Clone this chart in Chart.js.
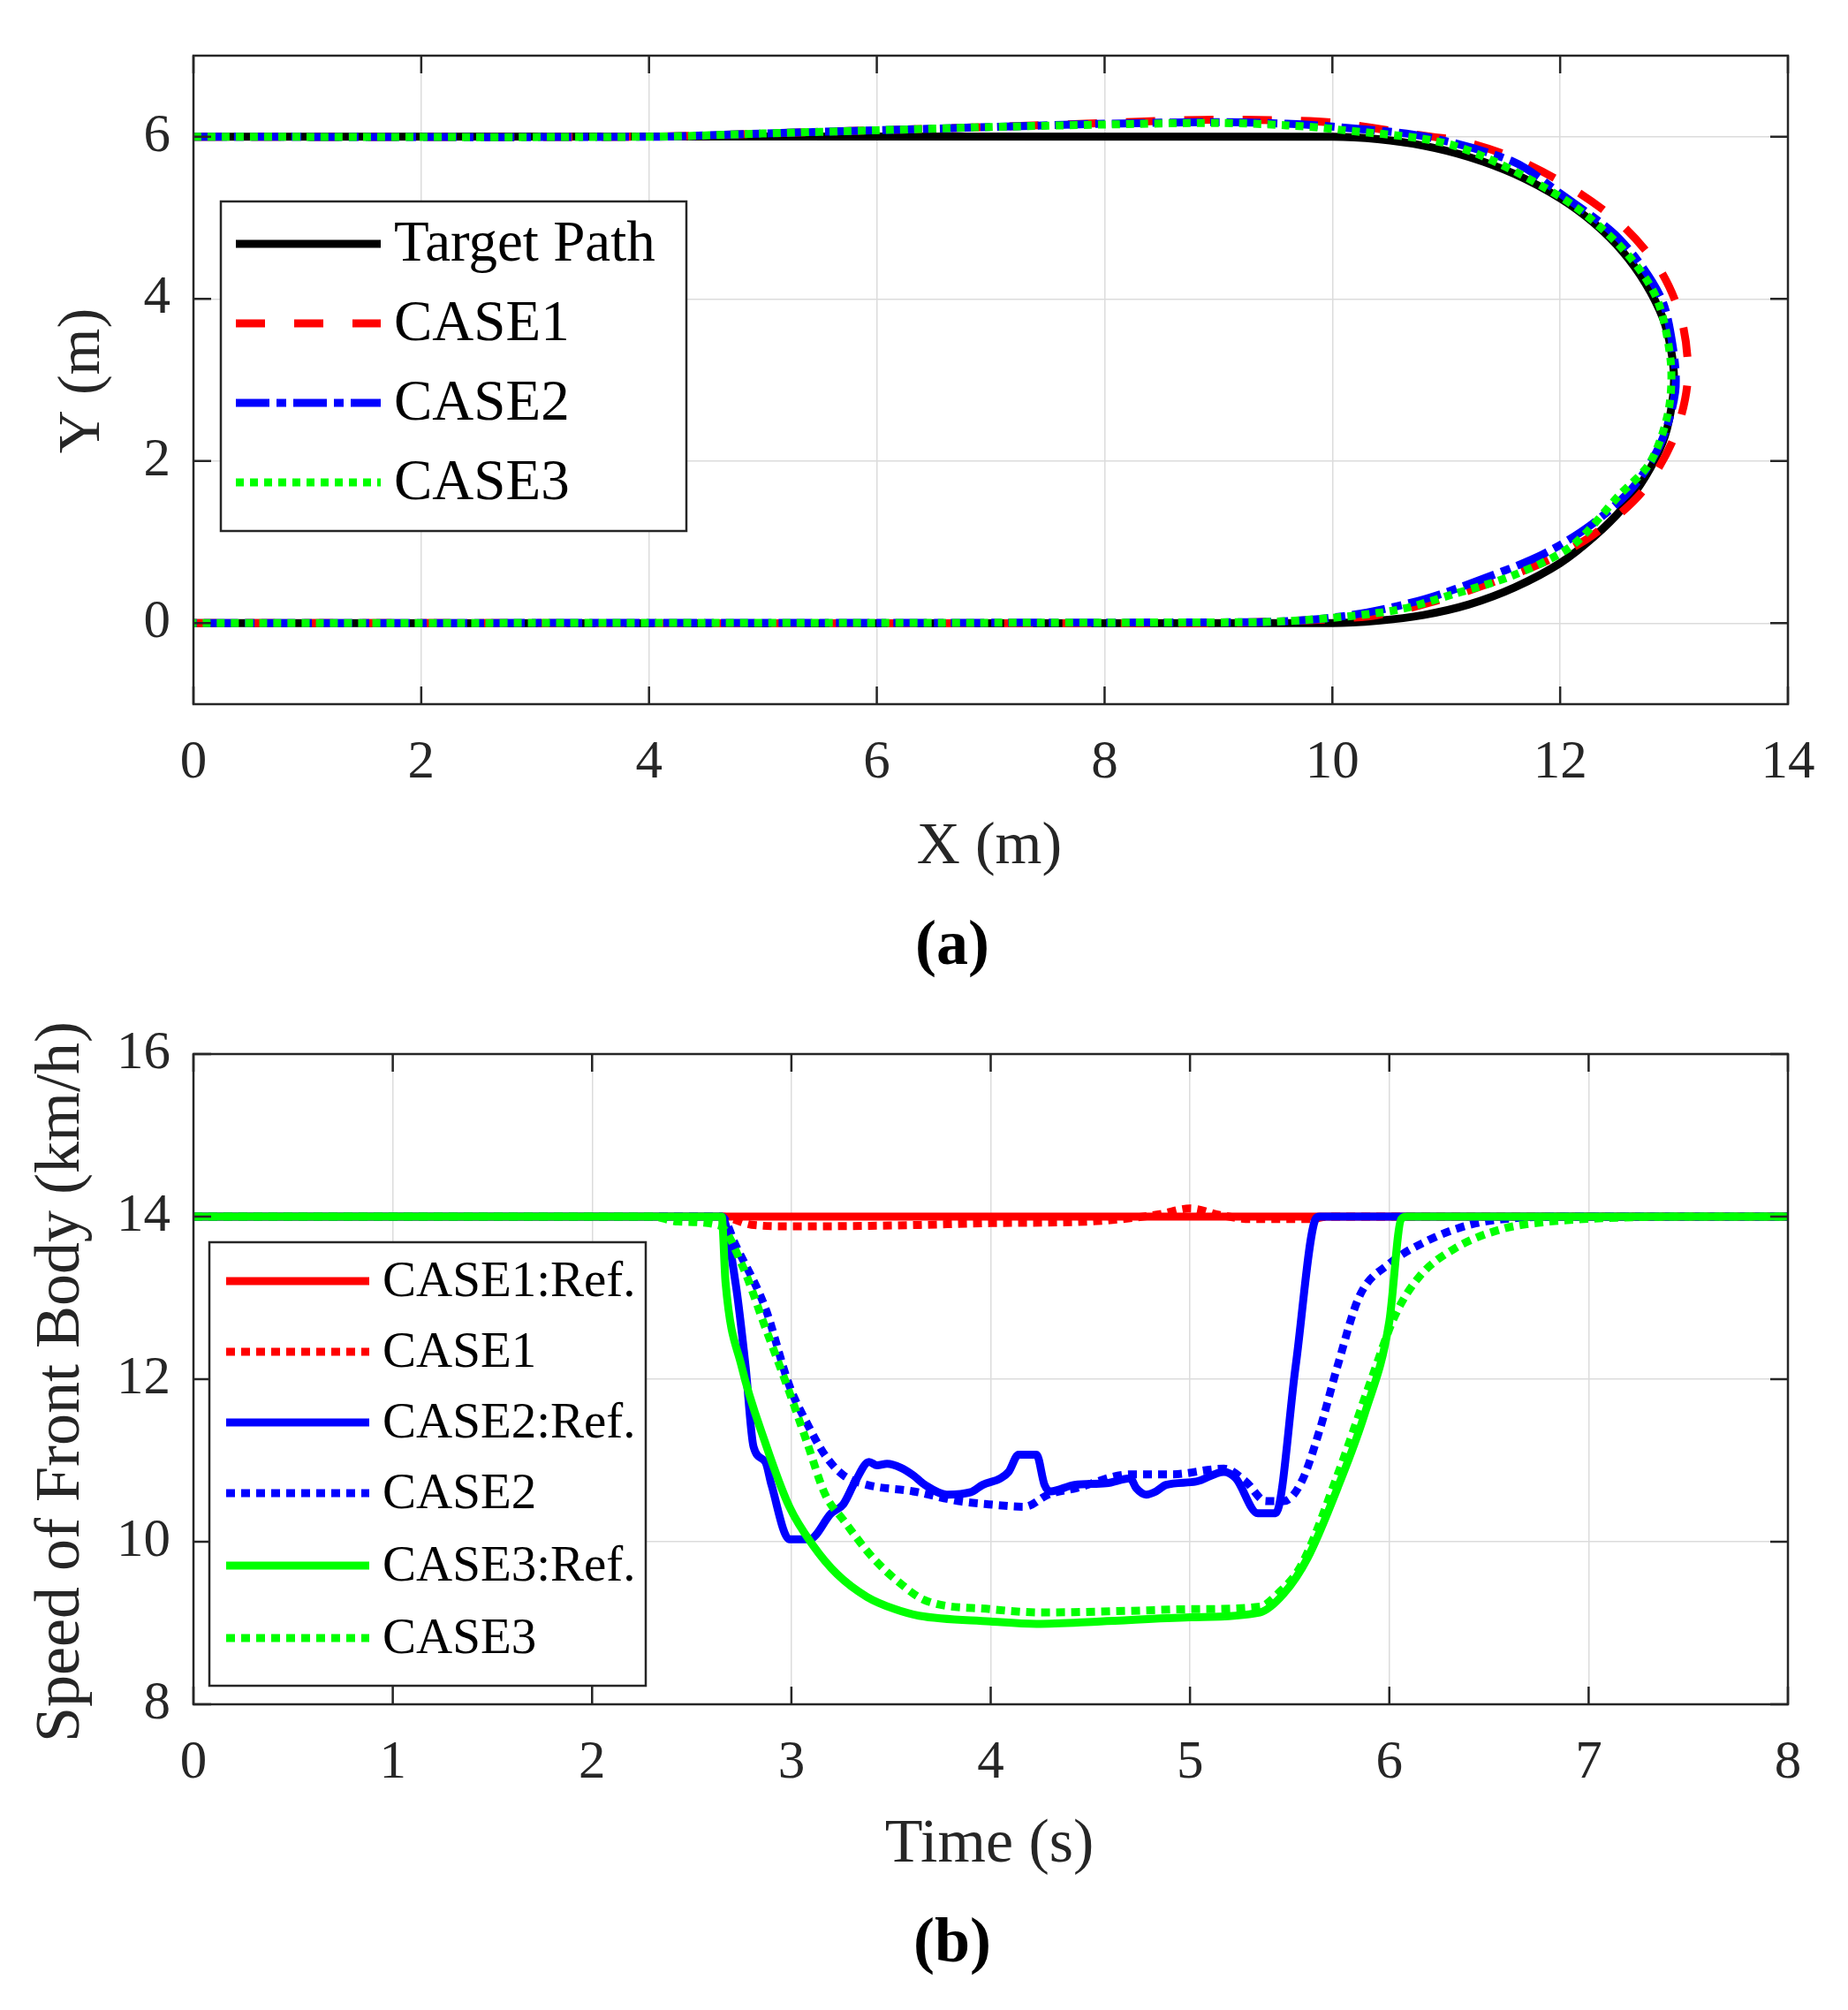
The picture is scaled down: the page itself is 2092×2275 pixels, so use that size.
<!DOCTYPE html>
<html>
<head>
<meta charset="utf-8">
<script src="https://cdn.jsdelivr.net/npm/chart.js@4.4.0/dist/chart.umd.min.js"></script>
<style>
html, body { margin: 0; padding: 0; background: #fff; }
canvas { position: absolute; left: 0; }
#pathChart { top: 0; }
#speedChart { top: 1130px; }
</style>
</head>
<body>
<canvas id="pathChart" width="2092" height="1130"></canvas>
<canvas id="speedChart" width="2092" height="1145"></canvas>
<script>
// ---- (a) path in the X-Y plane ----
const pathXTicks = [0, 2, 4, 6, 8, 10, 12, 14];
const pathYTicks = [0, 2, 4, 6];

const targetX = [0, 10, 10.4, 10.8, 11.2, 11.6, 12.0, 12.3, 12.55, 12.75, 12.9, 12.97, 13.0, 12.97, 12.9, 12.75, 12.55, 12.3, 12.0, 11.6, 11.2, 10.8, 10.4, 10, 0];
const targetY = [6, 6, 5.97, 5.89, 5.75, 5.54, 5.24, 4.93, 4.58, 4.19, 3.77, 3.4, 3.0, 2.6, 2.23, 1.81, 1.42, 1.07, 0.74, 0.44, 0.23, 0.1, 0.03, 0, 0];

const path1X = [0, 4, 5, 6, 7, 8, 8.6, 9.1, 9.6, 10.04, 10.66, 11.18, 11.64, 12.13, 12.55, 12.88, 13.07, 13.12, 13.0, 12.72, 12.3, 11.9, 11.4, 10.9, 10.4, 10, 9.5, 9, 0];
const path1Y = [6, 6, 6.04, 6.08, 6.12, 6.17, 6.2, 6.21, 6.2, 6.17, 6.04, 5.93, 5.71, 5.34, 4.9, 4.35, 3.72, 3.0, 2.29, 1.62, 1.1, 0.78, 0.5, 0.27, 0.1, 0.05, 0.02, 0, 0];

const path2X = [0, 4, 5, 6, 7, 8, 9, 9.6, 10.04, 10.82, 11.59, 12.0, 12.52, 12.88, 12.99, 13.01, 12.88, 12.63, 12.26, 11.85, 11.33, 10.82, 10.3, 9.8, 9.2, 0];
const path2Y = [6, 6, 6.04, 6.08, 6.12, 6.16, 6.18, 6.16, 6.12, 6.0, 5.69, 5.3, 4.74, 4.03, 3.4, 2.85, 2.21, 1.66, 1.2, 0.85, 0.55, 0.3, 0.13, 0.04, 0.01, 0];

const path3X = [0, 4, 5, 6, 7, 8, 9, 9.6, 10.04, 11.07, 12.0, 12.52, 12.84, 12.97, 12.95, 12.79, 12.52, 12.1, 11.59, 11.07, 10.56, 9.78, 9.2, 0];
const path3Y = [6, 6, 6.04, 6.08, 6.12, 6.15, 6.17, 6.14, 6.09, 5.89, 5.26, 4.66, 4.03, 3.24, 2.61, 1.98, 1.58, 0.95, 0.59, 0.36, 0.16, 0.04, 0.01, 0];

// ---- (b) speed of the front body ----
const timeTicks = [0, 1, 2, 3, 4, 5, 6, 7, 8];
const speedTicks = [8, 10, 12, 14, 16];

const case1RefT = [0, 8];
const case1RefV = [14, 14];
const case1T = [0, 2.65, 2.8, 3.0, 3.5, 4.0, 4.5, 4.7, 4.85, 5.0, 5.15, 5.3, 5.6, 5.7, 8];
const case1V = [14, 14, 13.9, 13.88, 13.89, 13.92, 13.94, 13.98, 14.03, 14.1, 14.02, 13.97, 13.97, 14, 14];

const case2RefT = [0, 2.65, 2.72, 2.77, 2.81, 2.87, 2.90, 2.99, 3.09, 3.20, 3.26, 3.32, 3.39, 3.43, 3.48, 3.55, 3.61, 3.67, 3.78, 3.90, 3.96, 4.05, 4.09, 4.14, 4.23, 4.27, 4.30, 4.42, 4.58, 4.70, 4.73, 4.78, 4.83, 4.88, 5.03, 5.17, 5.23, 5.34, 5.43, 5.53, 5.63, 5.65, 8];
const case2RefV = [14, 14, 13.18, 12.16, 11.17, 10.98, 10.70, 10.03, 10.03, 10.35, 10.46, 10.74, 10.98, 10.94, 10.96, 10.91, 10.82, 10.70, 10.58, 10.61, 10.70, 10.78, 10.86, 11.07, 11.07, 10.70, 10.62, 10.70, 10.72, 10.78, 10.66, 10.58, 10.62, 10.70, 10.74, 10.86, 10.78, 10.35, 10.35, 12.16, 13.97, 14, 14];
const case2T = [0, 2.65, 2.72, 2.87, 2.99, 3.08, 3.17, 3.26, 3.38, 3.61, 3.84, 3.99, 4.17, 4.29, 4.43, 4.70, 4.91, 5.17, 5.28, 5.38, 5.47, 5.56, 5.65, 5.74, 5.85, 6.0, 6.18, 6.39, 6.62, 6.92, 8];
const case2V = [14, 14, 13.65, 12.87, 11.92, 11.45, 11.06, 10.82, 10.70, 10.62, 10.50, 10.46, 10.43, 10.58, 10.66, 10.83, 10.83, 10.9, 10.74, 10.50, 10.50, 10.74, 11.37, 12.16, 13.02, 13.42, 13.69, 13.89, 13.98, 14, 14];

const case3RefT = [0, 2.65, 2.67, 2.75, 2.87, 2.99, 3.11, 3.23, 3.38, 3.52, 3.64, 4.0, 4.23, 4.55, 5.0, 5.35, 5.47, 5.59, 5.74, 5.88, 6.0, 6.06, 6.09, 8];
const case3RefV = [14, 14, 13.18, 12.16, 11.21, 10.43, 9.95, 9.60, 9.32, 9.17, 9.09, 9.02, 8.99, 9.02, 9.07, 9.13, 9.36, 9.8, 10.66, 11.60, 12.71, 13.97, 14, 14];
const case3T = [0, 2.3, 2.43, 2.64, 2.75, 2.87, 2.99, 3.08, 3.17, 3.26, 3.41, 3.55, 3.67, 4.0, 4.26, 4.70, 5.0, 5.35, 5.44, 5.56, 5.74, 5.91, 6.03, 6.15, 6.33, 6.57, 6.77, 7.07, 7.51, 8];
const case3V = [14, 14, 13.94, 13.89, 13.42, 12.63, 11.84, 11.21, 10.58, 10.27, 9.80, 9.48, 9.28, 9.17, 9.13, 9.15, 9.17, 9.20, 9.36, 9.72, 10.82, 12.0, 12.79, 13.26, 13.61, 13.85, 13.93, 13.98, 14, 14];

const FONT = "'Liberation Serif', 'DejaVu Serif', serif";
const AXIS_COLOR = '#262626';

function zip(xs, ys) {
    return xs.map(function(x, i) { return { x: x, y: ys[i] }; });
}

function line(label, xs, ys, color, dash, order, smooth) {
    const ds = {
        label: label,
        data: zip(xs, ys),
        showLine: true,
        borderColor: color,
        backgroundColor: color,
        borderWidth: 9,
        borderDash: dash,
        borderCapStyle: 'butt',
        borderJoinStyle: 'round',
        pointRadius: 0,
        pointHoverRadius: 0,
        tension: 0,
        fill: false,
        order: order
    };
    if (smooth === 'path') ds.tension = 0.3;
    if (smooth === 'time') ds.cubicInterpolationMode = 'monotone';
    return ds;
}

// draws the boxed frame, inward ticks, boxed legend and the axis titles
const figurePlugin = {
    id: 'figure',
    afterDatasetsDraw(chart, args, opts) {
        const ctx = chart.ctx;
        const a = chart.chartArea;
        const xs = chart.scales.x, ys = chart.scales.y;
        ctx.save();
        ctx.setLineDash([]);
        ctx.strokeStyle = AXIS_COLOR;
        ctx.lineWidth = 2.5;
        ctx.beginPath();
        xs.ticks.forEach(function(t) {
            const px = xs.getPixelForValue(t.value);
            ctx.moveTo(px, a.bottom); ctx.lineTo(px, a.bottom - 20);
            ctx.moveTo(px, a.top); ctx.lineTo(px, a.top + 20);
        });
        ys.ticks.forEach(function(t) {
            const py = ys.getPixelForValue(t.value);
            ctx.moveTo(a.left, py); ctx.lineTo(a.left + 20, py);
            ctx.moveTo(a.right, py); ctx.lineTo(a.right - 20, py);
        });
        ctx.stroke();
        ctx.strokeRect(a.left, a.top, a.right - a.left, a.bottom - a.top);

        // legend
        const lg = opts.legend;
        ctx.fillStyle = '#fff';
        ctx.fillRect(lg.box[0], lg.box[1], lg.box[2], lg.box[3]);
        ctx.strokeStyle = AXIS_COLOR;
        ctx.lineWidth = 2.5;
        ctx.strokeRect(lg.box[0], lg.box[1], lg.box[2], lg.box[3]);
        ctx.font = lg.size + 'px ' + FONT;
        ctx.textBaseline = 'middle';
        ctx.textAlign = 'left';
        chart.data.datasets.forEach(function(ds, i) {
            const y = lg.rows[i];
            ctx.beginPath();
            ctx.setLineDash(ds.borderDash || []);
            ctx.lineWidth = ds.borderWidth;
            ctx.lineCap = 'butt';
            ctx.strokeStyle = ds.borderColor;
            ctx.moveTo(lg.lineX[0], y);
            ctx.lineTo(lg.lineX[1], y);
            ctx.stroke();
            ctx.setLineDash([]);
            ctx.fillStyle = '#000';
            ctx.fillText(ds.label, lg.textX, y + 2);
        });

        // titles
        ctx.textAlign = 'center';
        opts.titles.forEach(function(t) {
            ctx.save();
            ctx.font = (t.bold ? 'bold ' : '') + t.size + 'px ' + FONT;
            ctx.fillStyle = t.bold ? '#000' : AXIS_COLOR;
            ctx.translate(t.x, t.y);
            if (t.rotate) ctx.rotate(-Math.PI / 2);
            ctx.fillText(t.text, 0, 0);
            ctx.restore();
        });
        ctx.restore();
    }
};

function makeOptions(area, canvasH, xr, yr, xTicks, yTicks, fig) {
    return {
        responsive: false,
        animation: false,
        devicePixelRatio: 1,
        layout: { padding: { left: 0, top: area.top, right: 2092 - area.right, bottom: 0 } },
        plugins: {
            legend: { display: false },
            tooltip: { enabled: false },
            figure: fig
        },
        scales: {
            x: {
                type: 'linear',
                min: xr[0], max: xr[1],
                afterBuildTicks: function(s) { s.ticks = xTicks.map(function(v) { return { value: v }; }); },
                afterFit: function(s) { s.height = canvasH - area.bottom; },
                grid: { color: '#dcdcdc', lineWidth: 1.5, drawTicks: false },
                border: { display: false },
                ticks: { padding: 30, color: AXIS_COLOR, font: { family: FONT, size: 61 }, maxRotation: 0 }
            },
            y: {
                type: 'linear',
                min: yr[0], max: yr[1],
                afterBuildTicks: function(s) { s.ticks = yTicks.map(function(v) { return { value: v }; }); },
                afterFit: function(s) { s.width = area.left; },
                grid: { color: '#dcdcdc', lineWidth: 1.5, drawTicks: false },
                border: { display: false },
                ticks: { padding: 26, color: AXIS_COLOR, font: { family: FONT, size: 61 } }
            }
        }
    };
}

Chart.register(figurePlugin);

new Chart(document.getElementById('pathChart'), {
    type: 'scatter',
    data: {
        datasets: [
            line('Target Path', targetX, targetY, '#000000', [], 3, 'path'),
            line('CASE1', path1X, path1Y, '#ff0000', [33, 33], 2, 'path'),
            line('CASE2', path2X, path2Y, '#0000ff', [38, 8, 11, 8], 1, 'path'),
            line('CASE3', path3X, path3Y, '#00ff00', [9, 7], 0, 'path')
        ]
    },
    options: makeOptions({ left: 219, right: 2024, top: 63, bottom: 797 }, 1130,
        [0, 14], [-1, 7], pathXTicks, pathYTicks, {
            legend: { box: [250, 228, 527, 373], rows: [276, 366, 456, 546], lineX: [267, 431], textX: 446, size: 65 },
            titles: [
                { text: 'X (m)', x: 1120, y: 959, size: 68 },
                { text: 'Y (m)', x: 94, y: 431, size: 68, rotate: true },
                { text: '(a)', x: 1078, y: 1072, size: 72, bold: true }
            ]
        })
});

new Chart(document.getElementById('speedChart'), {
    type: 'scatter',
    data: {
        datasets: [
            line('CASE1:Ref.', case1RefT, case1RefV, '#ff0000', [], 5, 'time'),
            line('CASE1', case1T, case1V, '#ff0000', [10, 7], 4, 'time'),
            line('CASE2:Ref.', case2RefT, case2RefV, '#0000ff', [], 3, 'time'),
            line('CASE2', case2T, case2V, '#0000ff', [10, 7], 2, 'time'),
            line('CASE3:Ref.', case3RefT, case3RefV, '#00ff00', [], 1, 'time'),
            line('CASE3', case3T, case3V, '#00ff00', [10, 7], 0, 'time')
        ]
    },
    options: makeOptions({ left: 219, right: 2024, top: 63, bottom: 799 }, 1145,
        [0, 8], [8, 16], timeTicks, speedTicks, {
            legend: { box: [237, 276, 494, 502], rows: [320, 400, 480, 560, 642, 724], lineX: [256, 418], textX: 433, size: 57 },
            titles: [
                { text: 'Time (s)', x: 1120, y: 959, size: 70 },
                { text: 'Speed of Front Body (km/h)', x: 70, y: 434, size: 72, rotate: true },
                { text: '(b)', x: 1078, y: 1071, size: 72, bold: true }
            ]
        })
});
</script>
</body>
</html>
